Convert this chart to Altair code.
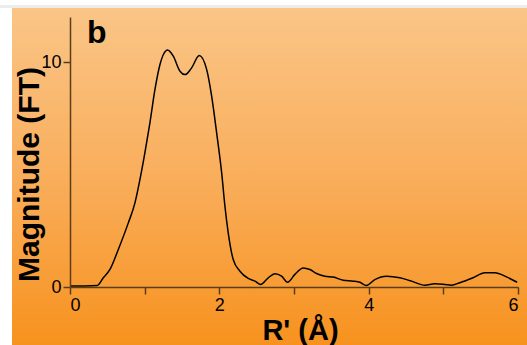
import altair as alt
import pandas as pd

# R' (Å) and Magnitude (FT)
r_vals = [0.0, 0.2, 0.365, 0.446, 0.535, 0.647, 0.781, 0.870, 0.937, 1.004, 1.071,
          1.138, 1.205, 1.285, 1.305, 1.383, 1.473, 1.540, 1.629, 1.731, 1.830,
          1.897, 1.964, 2.031, 2.075, 2.119, 2.186, 2.276, 2.387, 2.477, 2.553,
          2.655, 2.744, 2.834, 2.914, 3.012, 3.123, 3.213, 3.302, 3.414, 3.525,
          3.659, 3.793, 3.882, 3.969, 4.083, 4.240, 4.418, 4.575, 4.752, 4.886,
          5.020, 5.110, 5.221, 5.399, 5.556, 5.690, 5.846, 5.988]
mag_vals = [0.05, 0.05, 0.07, 0.41, 0.78, 1.67, 2.85, 3.74, 4.78, 5.98, 7.31,
            8.78, 9.89, 10.50, 10.53, 10.26, 9.59, 9.44, 9.74, 10.29, 9.67,
            8.48, 6.85, 5.08, 3.59, 2.41, 1.22, 0.70, 0.38, 0.26, 0.11,
            0.41, 0.59, 0.48, 0.21, 0.56, 0.85, 0.78, 0.60, 0.48, 0.44,
            0.30, 0.26, 0.21, 0.07, 0.33, 0.48, 0.41, 0.26, 0.08, 0.14,
            0.11, 0.08, 0.19, 0.41, 0.63, 0.63, 0.45, 0.21]

x_ticks = [0, 1, 2, 3, 4, 5, 6]
y_ticks = [0, 10]
panel_label = "b"
x_title = "R' (Å)"
y_title = "Magnitude (FT)"

df = pd.DataFrame({"r": r_vals, "mag": mag_vals})
one = pd.DataFrame({"k": [0]})

W, H = 448, 270
FONT = "Liberation Sans"
AXC = "#5c3d1a"

grad = alt.LinearGradient(
    gradient="linear",
    stops=[alt.GradientStop(color="#FAC587", offset=0),
           alt.GradientStop(color="#F9AE5C", offset=0.5),
           alt.GradientStop(color="#F7921E", offset=1)],
    x1=0, x2=0, y1=0, y2=1,
)

bg = alt.Chart(one).mark_rect(fill=grad).encode(
    x=alt.value(-58), x2=alt.value(457), y=alt.value(-9), y2=alt.value(328)
)
topband = alt.Chart(one).mark_rect(fill="#ececec").encode(
    x=alt.value(-70), x2=alt.value(457), y=alt.value(-12), y2=alt.value(-9)
)

line = alt.Chart(df).mark_line(color="black", strokeWidth=1.5, interpolate="monotone").encode(
    x=alt.X("r:Q", scale=alt.Scale(domain=[0, 6], nice=False, zero=False),
            axis=alt.Axis(values=x_ticks, title=x_title, grid=False, zindex=1,
                          labelExpr="datum.value % 2 == 0 ? datum.label : ''",
                          domainColor=AXC, tickColor=AXC, tickSize=7, domainWidth=1.5,
                          tickWidth=1.5, labelFont=FONT, labelFontSize=18, labelColor="black",
                          labelPadding=2, titleFont=FONT, titleFontSize=29,
                          titleFontWeight="bold", titleColor="black",
                          titleX=230, titleY=52, titleBaseline="alphabetic",
                          titleAlign="center")),
    y=alt.Y("mag:Q", scale=alt.Scale(domain=[0, 12], nice=False),
            axis=alt.Axis(values=y_ticks, title=y_title, grid=False, zindex=1,
                          domainColor=AXC, tickColor=AXC, tickSize=7, domainWidth=1.5,
                          tickWidth=1.5, labelFont=FONT, labelFontSize=18, labelColor="black",
                          labelPadding=2, titleFont=FONT, titleFontSize=30,
                          titleFontWeight="bold", titleColor="black",
                          titleAngle=270, titleX=-32, titleY=157,
                          titleBaseline="alphabetic", titleAlign="center")),
)

label = alt.Chart(pd.DataFrame({"t": [panel_label]})).mark_text(
    font=FONT, fontSize=32, fontWeight="bold", color="black",
    align="left", baseline="alphabetic"
).encode(text="t:N", x=alt.value(17), y=alt.value(26))

chart = alt.layer(bg, topband, line, label).properties(
    width=W, height=H,
    padding={"left": 70, "top": 17, "right": 9, "bottom": 58},
    autosize=alt.AutoSizeParams(type="none"),
    background="white",
).configure_view(stroke=None)

chart.save("out.html", embed_options={"renderer": "svg", "actions": False})
